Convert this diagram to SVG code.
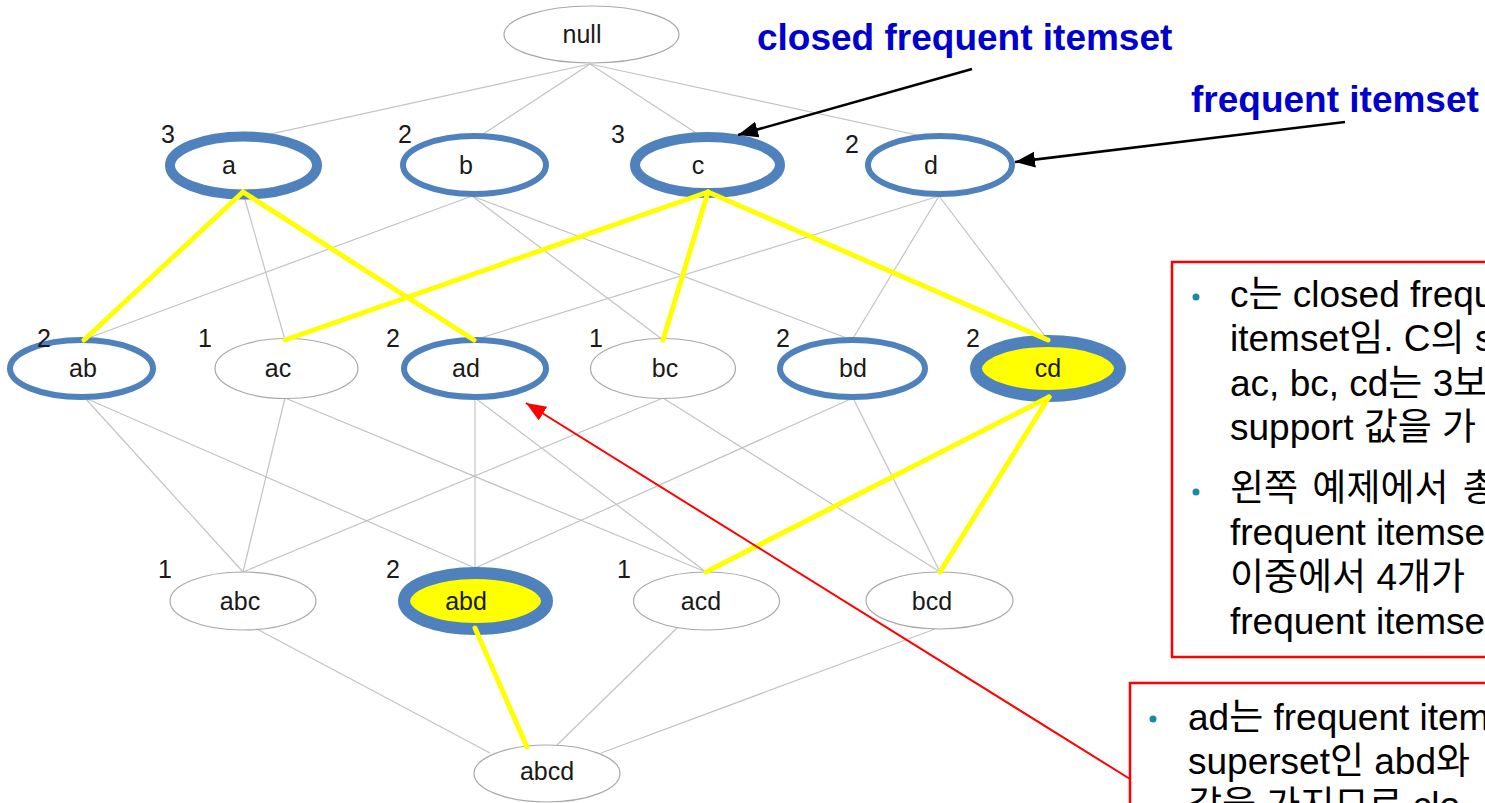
<svg xmlns="http://www.w3.org/2000/svg" width="1485" height="803" viewBox="0 0 1485 803">
  <style>
    .edge { stroke: #c3c3c3; stroke-width: 1.2; fill: none; }
    .hl { stroke: #ffff00; stroke-width: 5; fill: none; stroke-linecap: round; }
    .plain { fill: #ffffff; stroke: #a8a8a8; stroke-width: 1.2; }
    .freq { fill: #ffffff; stroke: #4f81bd; stroke-width: 6; }
    .closed { fill: #ffffff; stroke: #4f81bd; stroke-width: 10; }
    .maximal { fill: #ffff00; stroke: #4f81bd; stroke-width: 12; }
    .lbl { font-family: "Liberation Sans", Arial, sans-serif; font-size: 25px; fill: #1a1a1a; text-anchor: middle; }
    .cnt { font-family: "Liberation Sans", Arial, sans-serif; font-size: 25px; fill: #1a1a1a; }
    .title { font-family: "Liberation Sans", Arial, sans-serif; font-size: 37px; font-weight: bold; fill: #0000cc; }
    .note { font-family: "Liberation Sans", "Noto Sans CJK KR", sans-serif; font-size: 37px; fill: #000000; }
    .box { fill: none; stroke: #ff0000; stroke-width: 2.5; }
    .dot { fill: #1e86a8; }
  </style>
  <defs>
    <marker id="headBlack" markerUnits="userSpaceOnUse" markerWidth="22" markerHeight="18" refX="20" refY="8" orient="auto">
      <path d="M0,0 L20,8 L0,16 Z" fill="#000000"/>
    </marker>
    <marker id="headRed" markerUnits="userSpaceOnUse" markerWidth="22" markerHeight="18" refX="20" refY="8" orient="auto">
      <path d="M0,0 L20,8 L0,16 Z" fill="#ff0000"/>
    </marker>
  </defs>

  <!-- lattice edges (subset relations) -->
  <g id="connectors">
    <g id="lattice-edges">
      <line class="edge" x1="590" y1="64" x2="243" y2="140"/>
      <line class="edge" x1="590" y1="64" x2="474" y2="140"/>
      <line class="edge" x1="590" y1="64" x2="707" y2="140"/>
      <line class="edge" x1="590" y1="64" x2="940" y2="140"/>
      <line class="edge" x1="244" y1="196" x2="285" y2="340"/>
      <line class="edge" x1="472" y1="196" x2="83" y2="340"/>
      <line class="edge" x1="472" y1="196" x2="663" y2="340"/>
      <line class="edge" x1="472" y1="196" x2="852" y2="340"/>
      <line class="edge" x1="939" y1="196" x2="474" y2="340"/>
      <line class="edge" x1="939" y1="196" x2="852" y2="340"/>
      <line class="edge" x1="939" y1="196" x2="1048" y2="340"/>
      <line class="edge" x1="85" y1="398" x2="243" y2="572"/>
      <line class="edge" x1="85" y1="398" x2="475" y2="568"/>
      <line class="edge" x1="285" y1="398" x2="243" y2="572"/>
      <line class="edge" x1="285" y1="398" x2="706" y2="572"/>
      <line class="edge" x1="475" y1="398" x2="475" y2="568"/>
      <line class="edge" x1="475" y1="398" x2="706" y2="572"/>
      <line class="edge" x1="663" y1="398" x2="243" y2="572"/>
      <line class="edge" x1="663" y1="398" x2="940" y2="572"/>
      <line class="edge" x1="853" y1="398" x2="475" y2="568"/>
      <line class="edge" x1="853" y1="398" x2="940" y2="572"/>
      <line class="edge" x1="255" y1="628" x2="490" y2="753"/>
      <line class="edge" x1="677" y1="628" x2="557" y2="745"/>
      <line class="edge" x1="935" y1="629" x2="601" y2="753"/>
    </g>
  </g>

  <!-- itemset nodes -->
  <g id="node-null">
    <ellipse class="plain" cx="591.5" cy="34.5" rx="87.5" ry="28.5"/>
    <text class="lbl" x="582" y="43">null</text>
  </g>

  <g id="node-a">
    <ellipse class="closed" cx="243.5" cy="165.5" rx="73.5" ry="29"/>
    <text class="lbl" x="229" y="174">a</text>
    <text class="cnt" x="161" y="143">3</text>
  </g>
  <g id="node-b">
    <ellipse class="freq" cx="474.5" cy="165" rx="71.5" ry="29"/>
    <text class="lbl" x="466" y="174">b</text>
    <text class="cnt" x="398" y="143">2</text>
  </g>
  <g id="node-c">
    <ellipse class="closed" cx="707.5" cy="165" rx="72.5" ry="28"/>
    <text class="lbl" x="698" y="174">c</text>
    <text class="cnt" x="611" y="143">3</text>
  </g>
  <g id="node-d">
    <ellipse class="freq" cx="940" cy="165" rx="72" ry="29"/>
    <text class="lbl" x="931" y="174">d</text>
    <text class="cnt" x="845" y="153">2</text>
  </g>

  <g id="node-ab">
    <ellipse class="freq" cx="81.5" cy="368.5" rx="71.5" ry="28.5"/>
    <text class="lbl" x="83" y="377">ab</text>
    <text class="cnt" x="37" y="347">2</text>
  </g>
  <g id="node-ac">
    <ellipse class="plain" cx="286.5" cy="368.5" rx="71.5" ry="30"/>
    <text class="lbl" x="278" y="377">ac</text>
    <text class="cnt" x="198" y="347">1</text>
  </g>
  <g id="node-ad">
    <ellipse class="freq" cx="475" cy="368.5" rx="71" ry="28.5"/>
    <text class="lbl" x="466" y="377">ad</text>
    <text class="cnt" x="386" y="347">2</text>
  </g>
  <g id="node-bc">
    <ellipse class="plain" cx="663" cy="368.5" rx="72.5" ry="30"/>
    <text class="lbl" x="665" y="377">bc</text>
    <text class="cnt" x="589" y="347">1</text>
  </g>
  <g id="node-bd">
    <ellipse class="freq" cx="852.5" cy="368.5" rx="72.5" ry="28.5"/>
    <text class="lbl" x="853" y="377">bd</text>
    <text class="cnt" x="776" y="347">2</text>
  </g>
  <g id="node-cd">
    <ellipse class="maximal" cx="1048" cy="368.5" rx="72" ry="27.5"/>
    <text class="lbl" x="1048" y="377">cd</text>
    <text class="cnt" x="966" y="347">2</text>
  </g>

  <g id="node-abc">
    <ellipse class="plain" cx="243" cy="601" rx="73" ry="29"/>
    <text class="lbl" x="240" y="610">abc</text>
    <text class="cnt" x="158" y="578">1</text>
  </g>
  <g id="node-abd">
    <ellipse class="maximal" cx="475.5" cy="601" rx="71.5" ry="28"/>
    <text class="lbl" x="466" y="610">abd</text>
    <text class="cnt" x="386" y="578">2</text>
  </g>
  <g id="node-acd">
    <ellipse class="plain" cx="706.5" cy="601" rx="73" ry="29"/>
    <text class="lbl" x="701" y="610">acd</text>
    <text class="cnt" x="617" y="578">1</text>
  </g>
  <g id="node-bcd">
    <ellipse class="plain" cx="939.5" cy="600.5" rx="73.5" ry="28.5"/>
    <text class="lbl" x="932" y="610">bcd</text>
  </g>

  <g id="node-abcd">
    <ellipse class="plain" cx="547" cy="773.5" rx="73" ry="28.5"/>
    <text class="lbl" x="547" y="780">abcd</text>
  </g>

  <!-- highlighted edges with equal support -->
  <g id="highlight-edges">
    <line class="hl" x1="243" y1="192" x2="84" y2="340"/>
    <line class="hl" x1="243" y1="192" x2="474" y2="340"/>
    <line class="hl" x1="708" y1="192" x2="285" y2="340"/>
    <line class="hl" x1="708" y1="192" x2="663" y2="340"/>
    <line class="hl" x1="708" y1="192" x2="1048" y2="340"/>
    <line class="hl" x1="1049" y1="397" x2="706" y2="572"/>
    <line class="hl" x1="1049" y1="397" x2="940" y2="572"/>
    <line class="hl" x1="475" y1="628" x2="527" y2="747"/>
  </g>

  <!-- callouts -->
  <g id="callout-closed">
    <text class="title" x="757" y="50">closed frequent itemset</text>
    <line x1="972" y1="69" x2="738" y2="135" stroke="#000000" stroke-width="2.5" marker-end="url(#headBlack)"/>
  </g>
  <g id="callout-frequent">
    <text class="title" x="1191" y="112">frequent itemset</text>
    <line x1="1345" y1="122" x2="1015" y2="162" stroke="#000000" stroke-width="2.5" marker-end="url(#headBlack)"/>
  </g>

  <g id="note-closed">
    <rect class="box" x="1172" y="262" width="400" height="395"/>
    <circle class="dot" cx="1196" cy="297" r="3.5"/>
    <text class="note" x="1230" y="307">c는 closed frequ</text>
    <text class="note" x="1230" y="351">itemset임. C의 s</text>
    <text class="note" x="1230" y="396">ac, bc, cd는 3보</text>
    <text class="note" x="1230" y="440">support 값을 가</text>
    <circle class="dot" cx="1196" cy="492" r="3.5"/>
    <text class="note" x="1230" y="501" word-spacing="4">왼쪽 예제에서 총</text>
    <text class="note" x="1230" y="545">frequent itemse</text>
    <text class="note" x="1230" y="590">이중에서 4개가</text>
    <text class="note" x="1230" y="634">frequent itemse</text>
  </g>

  <g id="note-ad">
    <line x1="1130" y1="779" x2="526" y2="403" stroke="#ff0000" stroke-width="2" marker-end="url(#headRed)"/>
    <rect class="box" x="1130" y="683" width="400" height="200"/>
    <circle class="dot" cx="1153" cy="719" r="3.5"/>
    <text class="note" x="1188" y="730">ad는 frequent item</text>
    <text class="note" x="1188" y="774">superset인 abd와</text>
    <text class="note" x="1188" y="818">값을 가지므로 clo</text>
  </g>
</svg>
